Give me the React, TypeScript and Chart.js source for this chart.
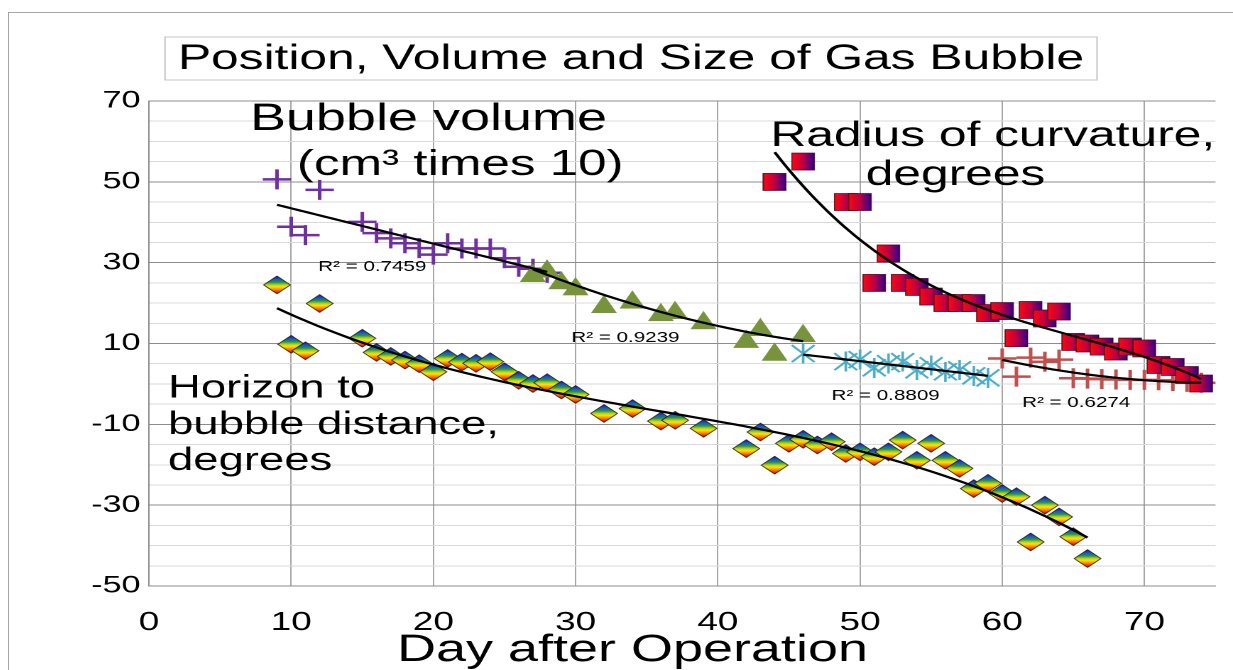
import React, { useEffect, useRef } from 'react';
import { Chart, registerables } from 'chart.js';

Chart.register(...registerables);

// ---------------- data ----------------
const xTickValues = [0, 10, 20, 30, 40, 50, 60, 70];
const yLabelValues = [70, 50, 30, 10, -10, -30, -50];

const chartTitle = 'Position, Volume and Size of Gas Bubble';
const xAxisTitle = 'Day after Operation';

// bubble volume (cm3 x 10), early phase (purple plus)
const volumeEarlyDays = [9, 10, 11, 12, 15, 16, 17, 18, 19, 20, 21, 22, 23, 24, 25, 26, 27, 28];
const volumeEarlyValues = [50.6, 38.9, 36.8, 48, 40.1, 37.3, 36, 34.8, 33.6, 32, 34.8, 33.5, 33.5, 33.5, 31.1, 29, 28.5, 27.5];

// bubble volume, second phase (green triangles)
const volumeMidDays = [27, 28, 29, 30, 32, 34, 36, 37, 39, 42, 43, 44, 46];
const volumeMidValues = [27.5, 28.6, 25.7, 24.2, 19.8, 20.9, 17.8, 18.3, 15.8, 11.2, 14.1, 8, 12.6];

// bubble volume, third phase (cyan stars)
const volumeLateDays = [46, 49, 50, 51, 52, 53, 54, 55, 56, 57, 58, 59];
const volumeLateValues = [7.5, 5.5, 6, 4, 5, 5.5, 3.5, 4.5, 3, 3.5, 2, 1.5];

// bubble volume, last phase (red plus)
const volumeEndDays = [60, 61, 62, 63, 64, 65, 66, 67, 68, 69, 70, 71, 72, 73, 74];
const volumeEndValues = [6.3, 1.8, 6.5, 5.5, 6, 1.4, 1.3, 1.2, 1.1, 1, 1, 0.9, 0.7, 0.5, 0.3];

// radius of curvature, degrees (gradient squares)
const radiusDays = [44, 46, 49, 50, 51, 52, 53, 54, 55, 56, 57, 58, 59, 60, 61, 62, 63, 64, 65, 66, 67, 68, 69, 70, 71, 72, 73, 74];
const radiusValues = [50, 55, 45, 45, 25, 32.3, 25, 24, 21.6, 20, 20, 20, 17.5, 18, 11.3, 18.3, 16.2, 17.9, 10.4, 10, 9.2, 8, 9.2, 8.8, 4.7, 4.2, 2.2, 0.1];

// horizon to bubble distance, degrees (rainbow diamonds)
const horizonDays = [9, 10, 11, 12, 15, 16, 17, 18, 19, 20, 21, 22, 23, 24, 25, 26, 27, 28, 29, 30, 32, 34, 36, 37, 39, 42, 43, 44, 45, 46, 47, 48, 49, 50, 51, 52, 53, 54, 55, 56, 57, 58, 59, 60, 61, 62, 63, 64, 65, 66];
const horizonValues = [24.5, 9.8, 8.2, 19.9, 11.3, 7.8, 6.8, 5.9, 5.0, 3.0, 6.3, 5.4, 5.1, 5.5, 3.0, 0.9, 0.1, 0.3, -1.5, -2.6, -7.3, -6.1, -9.2, -9.0, -11.0, -16.0, -11.9, -20.1, -14.7, -13.7, -15.1, -14.3, -17.2, -16.8, -18.0, -16.8, -13.9, -18.9, -14.7, -18.9, -20.9, -25.9, -24.6, -27.1, -27.9, -39.1, -30.0, -32.9, -37.8, -43.2];

const r2Texts = ['R² = 0.7459', 'R² = 0.9239', 'R² = 0.8809', 'R² = 0.6274'];
const noteTexts = ['Bubble volume', '(cm³ times 10)', 'Radius of curvature,', 'degrees', 'Horizon to', 'bubble distance,', 'degrees'];

// ---------------- layout (page is stretched horizontally like the reference) ----------------
const CSS_W = 1224;
const CSS_H = 660;
const LW = 862; // logical canvas width
const LH = 660;
const SXA = CSS_W / LW;
const CANVAS_LEFT = 9;
const CANVAS_TOP = 13;
const toLX = (px: number) => (px - CANVAS_LEFT) / SXA;
const PLOT_LEFT = toLX(149);
const PLOT_RIGHT = toLX(1215.5);
const PLOT_TOP = 101 - CANVAS_TOP;
const PLOT_BOTTOM = 586 - CANVAS_TOP;

const FONT = "'Liberation Sans', Arial, Helvetica, sans-serif";

// annotation placement in data coordinates: [day, value(baseline), font size]
const notePlacement: [number, number, number][] = [
  [7.1, 62.8, 38],
  [10.4, 51.7, 36],
  [43.7, 58.9, 35],
  [50.4, 49.2, 35],
  [1.34, -3.3, 32],
  [1.34, -12.4, 32],
  [1.34, -21.3, 32],
];
const r2Placement: [number, number][] = [
  [11.9, 27.9],
  [29.7, 10.35],
  [48.0, -4.0],
  [61.4, -5.7],
];

// ---------------- helpers ----------------
const zip = (xs: number[], ys: number[]) => xs.map((x, i) => ({ x, y: ys[i] }));

function polyFit(xs: number[], ys: number[], deg: number) {
  const n = deg + 1;
  const mx = xs.reduce((a, b) => a + b, 0) / xs.length;
  const A: number[][] = Array.from({ length: n }, () => new Array(n + 1).fill(0));
  for (let k = 0; k < xs.length; k++) {
    const t = xs[k] - mx;
    for (let i = 0; i < n; i++) {
      for (let j = 0; j < n; j++) A[i][j] += Math.pow(t, i + j);
      A[i][n] += ys[k] * Math.pow(t, i);
    }
  }
  for (let i = 0; i < n; i++) {
    let p = i;
    for (let r = i + 1; r < n; r++) if (Math.abs(A[r][i]) > Math.abs(A[p][i])) p = r;
    const tmp = A[i]; A[i] = A[p]; A[p] = tmp;
    for (let r = 0; r < n; r++) {
      if (r === i) continue;
      const f = A[r][i] / A[i][i];
      for (let c = i; c <= n; c++) A[r][c] -= f * A[i][c];
    }
  }
  const coef = A.map((row, i) => row[n] / row[i]);
  return (x: number) => coef.reduce((s, c, i) => s + c * Math.pow(x - mx, i), 0);
}

function trendPoints(xs: number[], ys: number[], deg: number) {
  const f = polyFit(xs, ys, deg);
  const a = Math.min(...xs);
  const b = Math.max(...xs);
  const pts: { x: number; y: number }[] = [];
  const steps = 80;
  for (let i = 0; i <= steps; i++) {
    const x = a + ((b - a) * i) / steps;
    pts.push({ x, y: f(x) });
  }
  return pts;
}

type DrawFn = (ctx: CanvasRenderingContext2D, w: number, h: number) => void;

function markerCanvas(w: number, h: number, draw: DrawFn, scale = 1) {
  const c = document.createElement('canvas');
  c.width = Math.round(w * scale);
  c.height = Math.round(h * scale);
  const ctx = c.getContext('2d')!;
  ctx.scale(scale, scale);
  draw(ctx, w, h);
  return c;
}

function markerImage(w: number, h: number, draw: DrawFn): Promise<HTMLImageElement> {
  const c = markerCanvas(w, h, draw, 3);
  return new Promise((resolve) => {
    const img = new Image();
    img.width = w;
    img.height = h;
    img.onload = () => resolve(img);
    img.src = c.toDataURL();
  });
}

const drawSquare: DrawFn = (ctx, w, h) => {
  const g = ctx.createLinearGradient(0, 0, w, 0);
  g.addColorStop(0, '#ff0a0a');
  g.addColorStop(0.45, '#c8003c');
  g.addColorStop(1, '#2a0096');
  ctx.fillStyle = g;
  ctx.fillRect(0.5, 0.5, w - 1, h - 1);
  ctx.strokeStyle = 'rgba(60,0,30,0.85)';
  ctx.lineWidth = 0.8;
  ctx.strokeRect(0.5, 0.5, w - 1, h - 1);
};

const drawDiamond: DrawFn = (ctx, w, h) => {
  const g = ctx.createLinearGradient(0, 0, 0, h);
  g.addColorStop(0, '#10108a');
  g.addColorStop(0.2, '#1f4fd8');
  g.addColorStop(0.36, '#1f9a46');
  g.addColorStop(0.5, '#b8d21c');
  g.addColorStop(0.6, '#ffe400');
  g.addColorStop(0.74, '#ff8a00');
  g.addColorStop(0.88, '#f02418');
  g.addColorStop(1, '#b8003c');
  ctx.beginPath();
  ctx.moveTo(w / 2, 0.6);
  ctx.lineTo(w - 0.6, h / 2);
  ctx.lineTo(w / 2, h - 0.6);
  ctx.lineTo(0.6, h / 2);
  ctx.closePath();
  ctx.fillStyle = g;
  ctx.fill();
  ctx.strokeStyle = 'rgba(40,30,10,0.9)';
  ctx.lineWidth = 0.8;
  ctx.stroke();
};

const drawTriangle: DrawFn = (ctx, w, h) => {
  ctx.beginPath();
  ctx.moveTo(w / 2, 0.3);
  ctx.lineTo(w - 0.3, h - 0.3);
  ctx.lineTo(0.3, h - 0.3);
  ctx.closePath();
  ctx.fillStyle = '#77933c';
  ctx.fill();
};

const drawStar: DrawFn = (ctx, w, h) => {
  ctx.strokeStyle = '#4bacc6';
  ctx.lineWidth = 1.8;
  ctx.lineCap = 'butt';
  ctx.beginPath();
  ctx.moveTo(1, 1.5);
  ctx.lineTo(w - 1, h - 1.5);
  ctx.moveTo(w - 1, 1.5);
  ctx.lineTo(1, h - 1.5);
  ctx.moveTo(w / 2, 0);
  ctx.lineTo(w / 2, h);
  ctx.stroke();
};

const SQUARE: [number, number] = [17.5, 18];
const DIAMOND: [number, number] = [20, 19];
const TRIANGLE: [number, number] = [19.5, 19];
const STAR: [number, number] = [18, 20];

const textPlugin = {
  id: 'textOverlay',
  afterDraw(chart: any) {
    const { ctx, scales } = chart;
    const x = scales.x;
    const y = scales.y;
    ctx.save();
    // title box
    const bx = toLX(165);
    const bw = (1097 - 165) / SXA;
    const by = 37 - CANVAS_TOP;
    const bh = 43;
    ctx.strokeStyle = '#c4c4c4';
    ctx.lineWidth = 1;
    ctx.strokeRect(bx, by, bw, bh);
    ctx.fillStyle = '#000';
    ctx.font = `35px ${FONT}`;
    ctx.textAlign = 'center';
    ctx.textBaseline = 'middle';
    ctx.fillText(chartTitle, bx + bw / 2, by + bh / 2 + 1);
    // x axis title
    ctx.font = `38px ${FONT}`;
    ctx.textBaseline = 'alphabetic';
    ctx.fillText(xAxisTitle, toLX(632.5), 661 - CANVAS_TOP);
    // notes
    ctx.textAlign = 'left';
    noteTexts.forEach((t, i) => {
      const [d, v, s] = notePlacement[i];
      ctx.font = `${s}px ${FONT}`;
      ctx.fillText(t, x.getPixelForValue(d), y.getPixelForValue(v));
    });
    ctx.font = `14.5px ${FONT}`;
    r2Texts.forEach((t, i) => {
      const [d, v] = r2Placement[i];
      ctx.fillText(t, x.getPixelForValue(d), y.getPixelForValue(v));
    });
    ctx.restore();
  },
};

export default function App() {
  const ref = useRef<HTMLCanvasElement>(null);

  useEffect(() => {
    document.body.style.overflow = 'hidden';
    document.documentElement.style.overflow = 'hidden';
    const canvas = ref.current!;
    canvas.width = LW;
    canvas.height = LH;
    canvas.style.width = CSS_W + 'px';
    canvas.style.height = CSS_H + 'px';

    const squareC = markerCanvas(SQUARE[0], SQUARE[1], drawSquare);
    const diamondC = markerCanvas(DIAMOND[0], DIAMOND[1], drawDiamond);
    const triangleC = markerCanvas(TRIANGLE[0], TRIANGLE[1], drawTriangle);
    const starC = markerCanvas(STAR[0], STAR[1], drawStar);

    const trendStyle = {
      type: 'line' as const,
      showLine: true,
      pointRadius: 0,
      borderColor: '#000',
      borderWidth: 2.2,
      fill: false,
      tension: 0,
      order: 0,
      clip: false as any,
    };
    const markerBase = { order: 1, clip: false as any, pointRadius: 10, pointHoverRadius: 10 };

    const chart = new Chart(canvas, {
      type: 'scatter',
      data: {
        datasets: [
          { ...trendStyle, label: 'trend volume 1', data: trendPoints(volumeEarlyDays, volumeEarlyValues, 1) },
          { ...trendStyle, label: 'trend volume 2', data: trendPoints(volumeMidDays, volumeMidValues, 2) },
          { ...trendStyle, label: 'trend volume 3', data: trendPoints(volumeLateDays, volumeLateValues, 1) },
          { ...trendStyle, label: 'trend volume 4', data: trendPoints(volumeEndDays, volumeEndValues, 2) },
          { ...trendStyle, label: 'trend radius', data: trendPoints(radiusDays, radiusValues, 3) },
          { ...trendStyle, label: 'trend horizon', data: trendPoints(horizonDays, horizonValues, 3) },
          { ...markerBase, label: 'Radius of curvature, degrees', data: zip(radiusDays, radiusValues), pointStyle: squareC as any },
          { ...markerBase, label: 'Bubble volume (late)', data: zip(volumeEndDays, volumeEndValues), pointStyle: 'cross', borderColor: '#c0504d', backgroundColor: '#c0504d', borderWidth: 2.5 },
          { ...markerBase, label: 'Bubble volume (third)', data: zip(volumeLateDays, volumeLateValues), pointStyle: starC as any },
          { ...markerBase, label: 'Bubble volume (second)', data: zip(volumeMidDays, volumeMidValues), pointStyle: triangleC as any },
          { ...markerBase, label: 'Bubble volume (cm³ times 10)', data: zip(volumeEarlyDays, volumeEarlyValues), pointStyle: 'cross', borderColor: '#7030a0', backgroundColor: '#7030a0', borderWidth: 2.5 },
          { ...markerBase, label: 'Horizon to bubble distance, degrees', data: zip(horizonDays, horizonValues), pointStyle: diamondC as any },
        ] as any,
      },
      options: {
        responsive: false,
        animation: false,
        devicePixelRatio: 2,
        events: [],
        layout: {
          autoPadding: false,
          padding: { top: PLOT_TOP, right: LW - PLOT_RIGHT, bottom: 0, left: 0 },
        },
        plugins: {
          legend: { display: false },
          tooltip: { enabled: false },
          title: { display: false },
        },
        scales: {
          x: {
            type: 'linear',
            min: 0,
            max: 75,
            afterBuildTicks: (s: any) => {
              s.ticks = xTickValues.map((v) => ({ value: v }));
            },
            afterFit: (s: any) => {
              s.height = LH - PLOT_BOTTOM;
            },
            grid: { color: '#a6a6a6', lineWidth: 1, drawTicks: false },
            border: { display: true, color: '#8c8c8c', width: 1 },
            ticks: {
              color: '#000',
              font: { family: FONT, size: 26 },
              padding: 21,
              maxRotation: 0,
              autoSkip: false,
            },
          },
          y: {
            type: 'linear',
            min: -50,
            max: 70,
            afterFit: (s: any) => {
              s.width = PLOT_LEFT;
            },
            grid: {
              color: (c: any) => (yLabelValues.includes(c.tick?.value) ? '#8c8c8c' : '#d9d9d9'),
              lineWidth: 1,
              drawTicks: false,
            },
            border: { display: true, color: '#8c8c8c', width: 1 },
            ticks: {
              stepSize: 5,
              color: '#000',
              font: { family: FONT, size: 24 },
              padding: 6,
              autoSkip: false,
              callback: (v: any) => (yLabelValues.includes(Number(v)) ? String(v) : ''),
            },
          },
        },
      },
      plugins: [textPlugin],
    });

    let alive = true;
    Promise.all([
      markerImage(SQUARE[0], SQUARE[1], drawSquare),
      markerImage(DIAMOND[0], DIAMOND[1], drawDiamond),
      markerImage(TRIANGLE[0], TRIANGLE[1], drawTriangle),
      markerImage(STAR[0], STAR[1], drawStar),
    ]).then(([sq, di, tr, st]) => {
      if (!alive) return;
      const ds = chart.data.datasets as any[];
      ds[6].pointStyle = sq;
      ds[8].pointStyle = st;
      ds[9].pointStyle = tr;
      ds[11].pointStyle = di;
      chart.update();
    });

    return () => {
      alive = false;
      chart.destroy();
    };
  }, []);

  return (
    <div
      style={{
        position: 'absolute',
        left: 8,
        top: 12,
        width: 1240,
        height: 690,
        border: '1px solid #a6a6a6',
        boxSizing: 'border-box',
        overflow: 'hidden',
        background: '#fff',
      }}
    >
      <canvas ref={ref} />
    </div>
  );
}
